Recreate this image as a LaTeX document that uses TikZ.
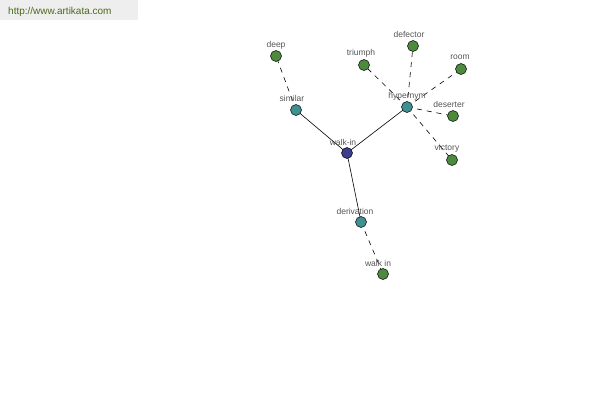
\documentclass[tikz,border=0pt]{standalone}
\usepackage{fontspec}
\setmainfont{Liberation Sans}
\definecolor{ngreen}{HTML}{4E8A3E}
\definecolor{nteal}{HTML}{3F9090}
\definecolor{nblue}{HTML}{3B3F8C}
\definecolor{lblgray}{HTML}{555555}
\definecolor{hdrbg}{HTML}{EEEEEE}
\definecolor{hdrtext}{HTML}{4A6A1A}
\begin{document}
\begin{tikzpicture}[x=1pt,y=-1pt,
  dot/.style={circle,draw=black,line width=0.5pt,inner sep=0pt,minimum size=11pt},
  gdot/.style={dot,fill=ngreen},
  tdot/.style={dot,fill=nteal},
  bdot/.style={dot,fill=nblue},
  lbl/.style={text=lblgray,font=\fontsize{8.5}{9}\selectfont,inner sep=0pt},
  sol/.style={line width=0.6pt},
  dsh/.style={line width=0.6pt,dash pattern=on 5pt off 5pt}]
\useasboundingbox (0,0) rectangle (600,400);
\fill[hdrbg] (0,0) rectangle (138,20);
\node[anchor=west,text=hdrtext,font=\fontsize{10}{11}\selectfont,inner sep=0pt] (hdr) at (8,12) {http://www.artikata.com};
% nodes
\coordinate (cwalkin) at (347,153);
\coordinate (csimilar) at (296,110);
\coordinate (cdeep) at (276,56);
\coordinate (chyper) at (407,107);
\coordinate (ctriumph) at (364,65);
\coordinate (cdefector) at (413,46);
\coordinate (croom) at (461,69);
\coordinate (cdeserter) at (453,116);
\coordinate (cvictory) at (452,160);
\coordinate (cderiv) at (361,222);
\coordinate (cwalkin2) at (383,274);
% edges
\draw[sol] (cwalkin) -- (csimilar);
\draw[sol] (cwalkin) -- (chyper);
\draw[sol] (cwalkin) -- (cderiv);
\draw[dsh] (csimilar) -- (cdeep);
\draw[dsh] (chyper) -- (ctriumph);
\draw[dsh] (chyper) -- (cdefector);
\draw[dsh] (chyper) -- (croom);
\draw[dsh] (chyper) -- (cdeserter);
\draw[dsh] (chyper) -- (cvictory);
\draw[dsh] (cderiv) -- (cwalkin2);
% dots
\node[bdot] (walkin) at (cwalkin) {};
\node[tdot] (similar) at (csimilar) {};
\node[gdot] (deep) at (cdeep) {};
\node[tdot] (hyper) at (chyper) {};
\node[gdot] (triumph) at (ctriumph) {};
\node[gdot] (defector) at (cdefector) {};
\node[gdot] (room) at (croom) {};
\node[gdot] (deserter) at (cdeserter) {};
\node[gdot] (victory) at (cvictory) {};
\node[tdot] (deriv) at (cderiv) {};
\node[gdot] (walkin2) at (cwalkin2) {};
% labels
\node[lbl] (lwalkin) at (343,142) {walk-in};
\node[lbl] (lsimilar) at (292,98) {similar};
\node[lbl] (ldeep) at (276,45) {deep};
\node[lbl] (lhyper) at (407,96) {hypernym};
\node[lbl] (ltriumph) at (361,53) {triumph};
\node[lbl] (ldefector) at (409,34) {defector};
\node[lbl] (lroom) at (460,57) {room};
\node[lbl] (ldeserter) at (449,104) {deserter};
\node[lbl] (lvictory) at (447,148) {victory};
\node[lbl] (lderiv) at (355,211) {derivation};
\node[lbl] (lwalkin2) at (378,263) {walk in};
\end{tikzpicture}
\end{document}
